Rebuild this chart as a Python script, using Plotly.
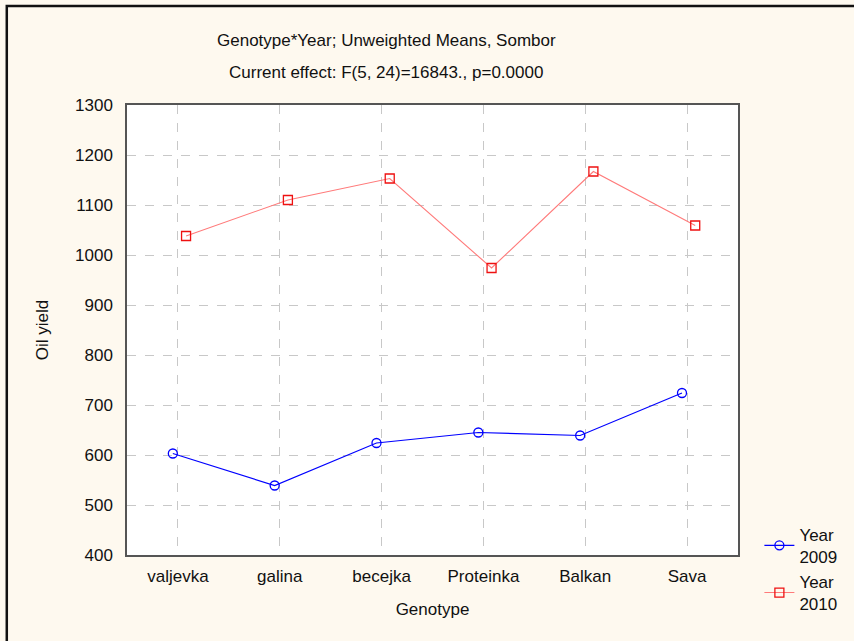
import plotly.graph_objects as go

genotypes = ["valjevka", "galina", "becejka", "Proteinka", "Balkan", "Sava"]
year2009 = [603, 539, 624, 645, 639, 724]
year2010 = [1038, 1110, 1153, 974, 1167, 1059]
y_ticks = [400, 500, 600, 700, 800, 900, 1000, 1100, 1200, 1300]

pos = list(range(len(genotypes)))
off_2009 = -0.05
off_2010 = 0.08

FONT = "Liberation Sans, Arial, sans-serif"
BG = "#FEF9EF"
TXT = "#111111"
FS = 17

fig = go.Figure()
fig.add_trace(go.Scatter(
    x=[p + off_2009 for p in pos], y=year2009, mode="lines+markers",
    name="Year<br>2009",
    line=dict(color="#0000FF", width=1.2),
    marker=dict(symbol="circle-open", size=9, color="#0000FF", line=dict(width=1.3)),
))
fig.add_trace(go.Scatter(
    x=[p + off_2010 for p in pos], y=year2010, mode="lines+markers",
    name="Year<br>2010",
    line=dict(color="#FF7A7A", width=1.1),
    marker=dict(symbol="square-open", size=9, color="#EE1111", line=dict(width=1.3)),
))

grid_style = dict(showgrid=True, gridcolor="#C8C8C8", griddash="dash", gridwidth=1,
                  showline=True, linecolor="#555555", linewidth=1.5, mirror=True,
                  zeroline=False, ticks="outside", tickcolor="rgba(0,0,0,0)",
                  tickfont=dict(family=FONT, size=FS, color=TXT))

fig.update_xaxes(range=[-0.5, 5.5], tickvals=pos, ticktext=genotypes, ticklen=5,
                 title=dict(text="Genotype", font=dict(family=FONT, size=FS, color=TXT), standoff=18),
                 **grid_style)
fig.update_yaxes(range=[400, 1300], tickvals=y_ticks, ticklen=9,
                 title=dict(text="Oil yield", font=dict(family=FONT, size=FS, color=TXT), standoff=22),
                 **grid_style)

fig.update_layout(
    width=854, height=641,
    margin=dict(l=127, r=112, t=105, b=86),
    paper_bgcolor=BG, plot_bgcolor="white",
    showlegend=True,
    legend=dict(x=1.035, y=0.085, xanchor="left", yanchor="top",
                bgcolor="rgba(0,0,0,0)", font=dict(family=FONT, size=FS, color=TXT),
                tracegroupgap=0, itemwidth=30),
    font=dict(family=FONT),
)

fig.add_annotation(text="Genotype*Year; Unweighted Means, Sombor", xref="paper", yref="paper",
                   x=0.424, y=1.144, xanchor="center", yanchor="middle", showarrow=False,
                   font=dict(family=FONT, size=FS, color=TXT))
fig.add_annotation(text="Current effect: F(5, 24)=16843., p=0.0000", xref="paper", yref="paper",
                   x=0.424, y=1.073, xanchor="center", yanchor="middle", showarrow=False,
                   font=dict(family=FONT, size=FS, color=TXT))

# outer frame (only left and top edges visible, like the reference crop)
fig.add_shape(type="rect", xref="paper", yref="paper",
              x0=-121 / 615, x1=(870 - 127) / 615, y0=-(86 + 20) / 450, y1=1 + (105 - 6) / 450,
              line=dict(color="#111111", width=2.5), fillcolor="rgba(0,0,0,0)", layer="below")

fig.write_html("out.html", config={"displayModeBar": False},
               post_script="document.body.style.margin='0';document.body.style.padding='0';")
